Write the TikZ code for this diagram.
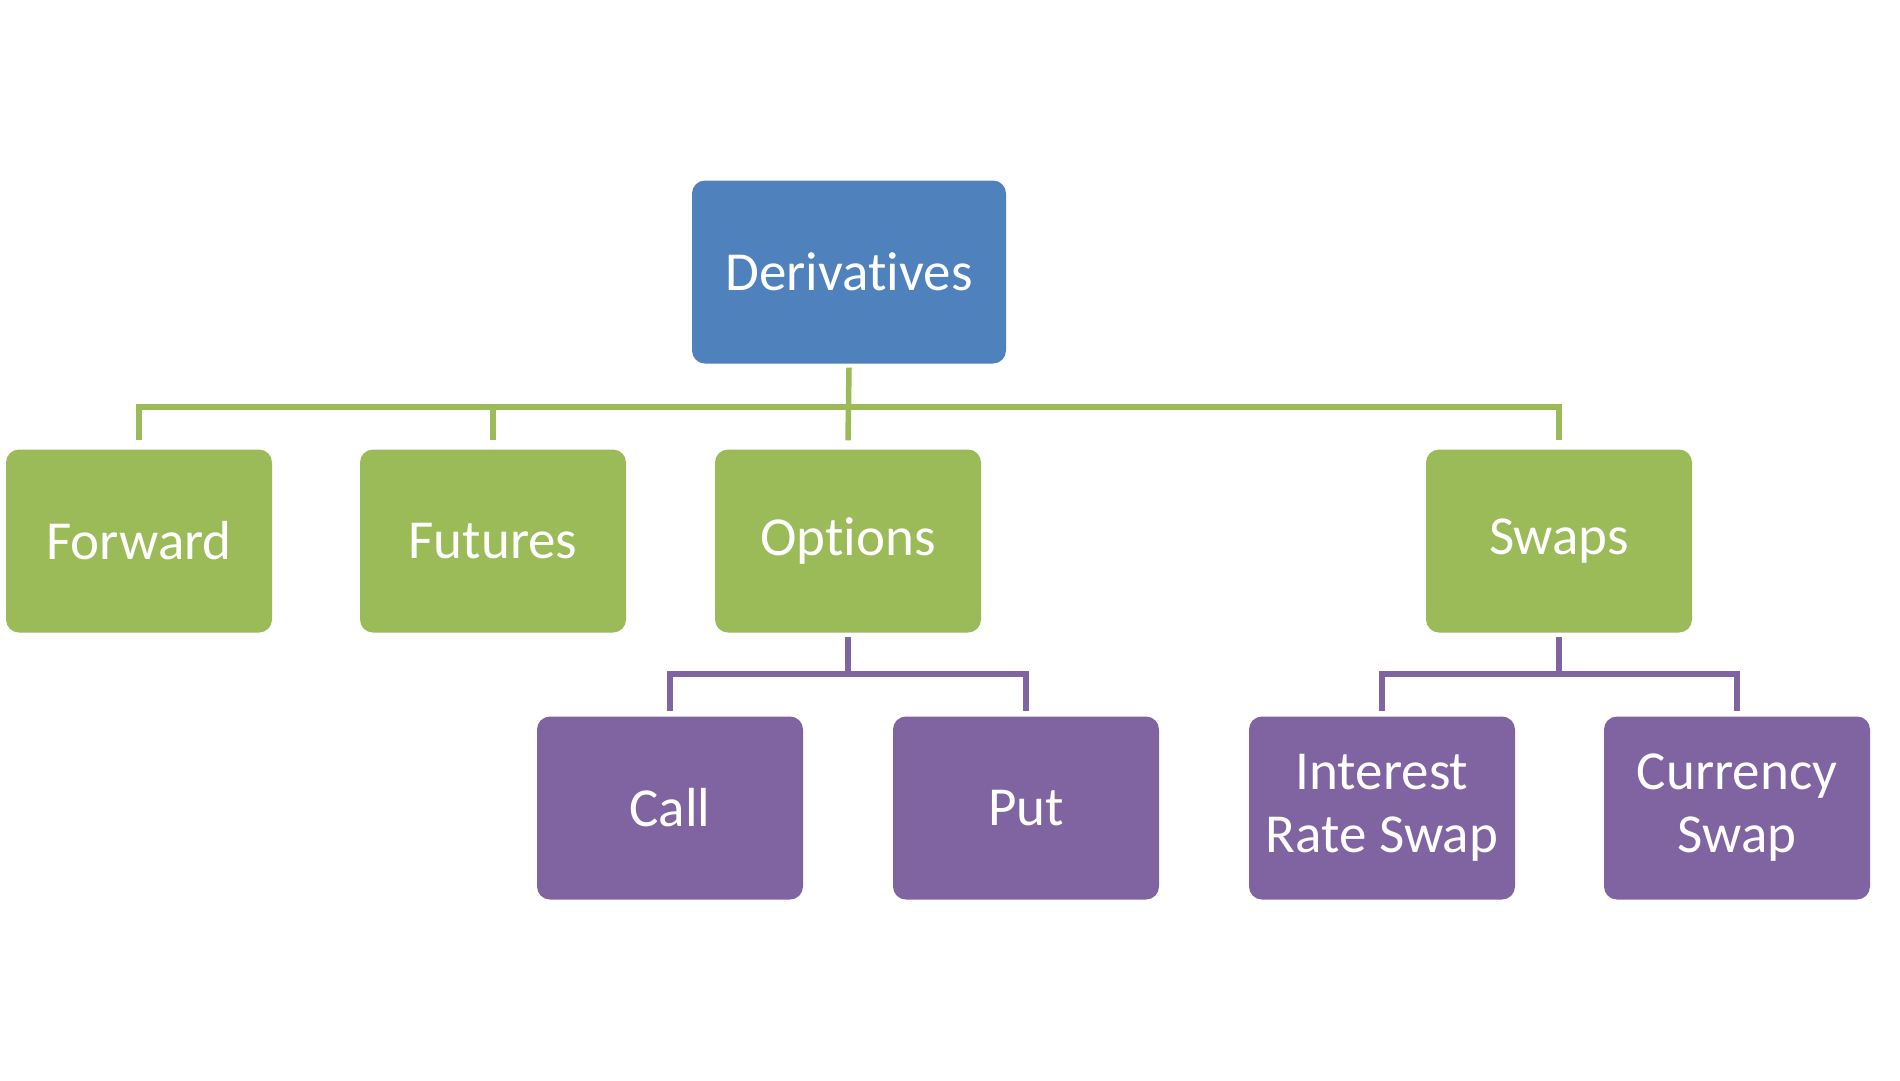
\documentclass[tikz,border=0pt]{standalone}
\usepackage{fontspec}
\setmainfont[RawFeature=-liga]{Carlito}
\definecolor{cblue}{HTML}{4F81BD}
\definecolor{cgreen}{HTML}{9BBB59}
\definecolor{cpurple}{HTML}{8064A2}
\begin{document}
\begin{tikzpicture}[x=1pt,y=-1pt,
  box/.style={rectangle, rounded corners=13pt, inner sep=0pt, minimum width=266pt, minimum height=183pt,
    text=white, align=center, font=\fontsize{55}{63}\selectfont},
  bluebox/.style={box, fill=cblue, minimum width=314pt},
  greenbox/.style={box, fill=cgreen},
  purplebox/.style={box, fill=cpurple},
  gline/.style={draw=cgreen, line width=5.5pt, line join=miter},
  pline/.style={draw=cpurple, line width=5.5pt, line join=miter}]
\fill[white] (0,0) rectangle (1900,1080);
\useasboundingbox (0,0) rectangle (1900,1080);

\node[bluebox] (deriv) at (849,272) {Derivatives};
\node[greenbox] (forward) at (139,541) {Forward};
\node[greenbox] (futures) at (493,541) {Futures};
\node[greenbox] (options) at (848,541) {Options};
\node[greenbox] (swaps) at (1559,541) {Swaps};
\node[purplebox] (call) at (670,808) {Call};
\node[purplebox] (put) at (1026,808) {Put};
\node[purplebox] (irs) at (1382,808) {Interest\\Rate Swap};
\node[purplebox] (cur) at (1737,808) {Currency\\Swap};

\coordinate (gbar) at (849,407);
\coordinate (pbarA) at (848,674);
\coordinate (pbarB) at (1559,674);

\draw[gline] ([yshift=-4pt]deriv.south) -- ([yshift=9pt]options.north);
\draw[gline] ([yshift=9pt]forward.north) |- (gbar) -| ([yshift=9pt]swaps.north);
\draw[gline] ([yshift=9pt]futures.north) -- (futures.north |- gbar);

\draw[pline] ([yshift=-4pt]options.south) -- (pbarA);
\draw[pline] ([yshift=5pt]call.north) |- (pbarA) -| ([yshift=5pt]put.north);
\draw[pline] ([yshift=-4pt]swaps.south) -- (pbarB);
\draw[pline] ([yshift=5pt]irs.north) |- (pbarB) -| ([yshift=5pt]cur.north);
\end{tikzpicture}
\end{document}
